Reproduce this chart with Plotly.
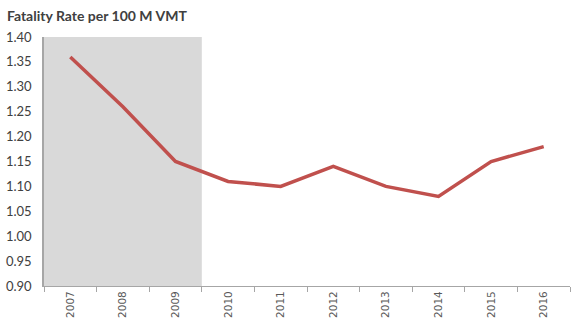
import plotly.graph_objects as go

years = ["2007", "2008", "2009", "2010", "2011", "2012", "2013", "2014", "2015", "2016"]
rates = [1.36, 1.26, 1.15, 1.11, 1.10, 1.14, 1.10, 1.08, 1.15, 1.18]
y_ticks = [0.90, 0.95, 1.00, 1.05, 1.10, 1.15, 1.20, 1.25, 1.30, 1.35, 1.40]
shade_years = ["2007", "2008", "2009"]

fig = go.Figure()
fig.add_trace(go.Scatter(x=years, y=rates, mode="lines",
                         line=dict(color="#C0504D", width=3.5), showlegend=False))

fig.add_shape(type="rect", xref="x", yref="y",
              x0=-0.5, x1=len(shade_years) - 0.5, y0=0.90, y1=1.40,
              fillcolor="#D9D9D9", line=dict(width=0), layer="below")

fig.update_layout(
    width=576, height=327,
    margin=dict(l=44, r=6, t=37, b=41),
    plot_bgcolor="white", paper_bgcolor="white",
    font=dict(family="Lato, Liberation Sans, sans-serif", color="#404040"),
    title=dict(text="<b>Fatality Rate per 100 M VMT</b>", x=0.012, xanchor="left",
               y=0.965, yanchor="top", font=dict(size=14, color="#404040")),
)
fig.update_xaxes(type="category", tickson="boundaries", ticks="outside", ticklen=5,
                 tickcolor="#A6A6A6", showline=True, linecolor="#A6A6A6", linewidth=1,
                 tickangle=-90, tickfont=dict(size=10.5, color="#595959", family="DejaVu Sans"),
                 showgrid=False, range=[-0.5, len(years) - 0.5])
fig.update_yaxes(range=[0.90, 1.40], tickvals=y_ticks, tickformat=".2f",
                 showline=True, linecolor="#A6A6A6", linewidth=1.5, ticks="",
                 ticklabelstandoff=8,
                 showgrid=False, zeroline=False, tickfont=dict(size=13, color="#404040"))

fig.write_html("out.html")
